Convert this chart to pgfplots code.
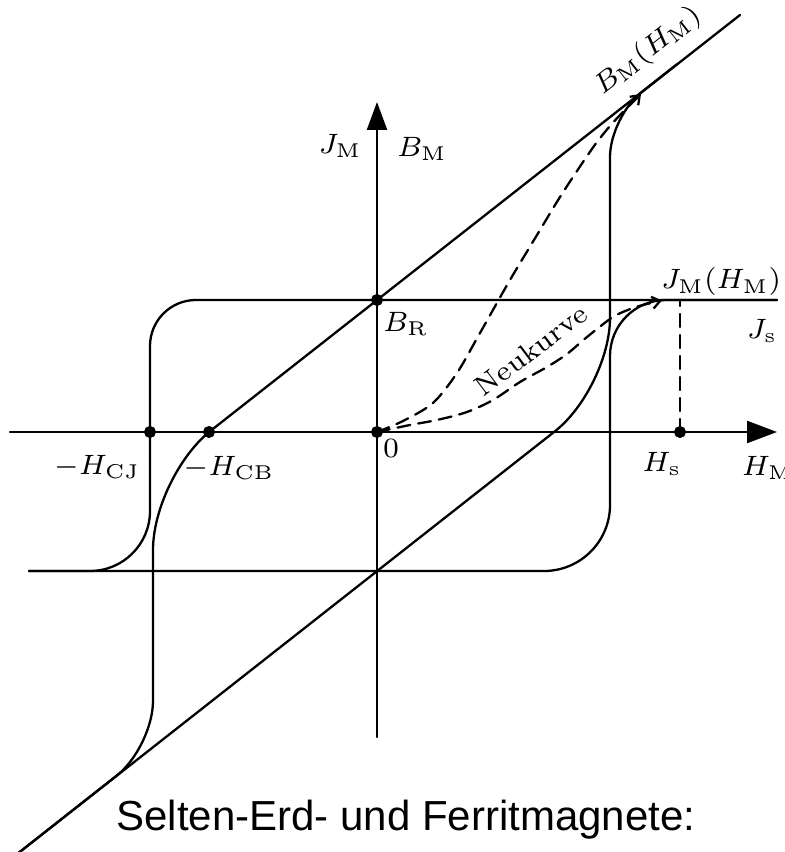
\documentclass[border=0pt]{standalone}
\usepackage{fontspec}
\usepackage{pgfplots}
\pgfplotsset{compat=1.18}
\usetikzlibrary{arrows.meta}
\newfontfamily\captionfont{Liberation Sans}

\tikzset{
  curve/.style={black, line width=1.15pt, line cap=round, line join=round},
  neu/.style={curve, smooth, dash pattern=on 6.5pt off 4pt,
    -{Straight Barb[length=4pt,width=6pt]}},
  lbl/.style={font=\fontsize{7}{8}\selectfont, scale=2.0, inner sep=0pt},
}

\begin{document}
\begin{tikzpicture}
\useasboundingbox (0,0) rectangle (392.5pt,426pt);
\clip (0,0) rectangle (392.5pt,426pt);
\begin{axis}[
  at={(0,0)}, anchor=south west,
  scale only axis, width=392.5pt, height=426pt,
  xmin=-377, xmax=408, ymin=-420, ymax=432,
  hide axis, clip=false,
]
% coordinate axes H_M and J_M / B_M
\addplot[curve, -{Triangle[length=15pt,width=11pt]}] coordinates {(-367,0) (400,0)};
\addplot[curve, -{Triangle[length=14pt,width=10pt]}] coordinates {(0,-305) (0,330)};

% J_M(H_M): rectangular loop
\addplot[curve, rounded corners=23pt] coordinates {(400,132) (-227,132) (-227,-30)};
\addplot[curve, rounded corners=30pt] coordinates {(-227,-30) (-227,-139) (-348,-139)};
\addplot[curve, rounded corners=33pt] coordinates {(-348,-139) (233,-139) (233,0)};
\addplot[curve, rounded corners=28pt] coordinates {(233,0) (233,132) (400,132)};

% B_M(H_M): sheared loop
\addplot[curve, rounded corners=37pt] coordinates {(363,417) (-224,-44) (-224,-180)};
\addplot[curve, rounded corners=23pt] coordinates {(-224,-180) (-224,-315) (-370,-430)};
\addplot[curve, rounded corners=35pt] coordinates {(-370,-430) (233,44) (233,180)};
\addplot[curve, rounded corners=20pt] coordinates {(233,180) (233,315) (300,367.8)};

% initial magnetisation curves
\addplot[neu] coordinates {(0,0) (26,11) (56,29) (80,59) (103,99) (133,152)
  (160,197) (183,235) (206,270) (220,290) (233,306) (245,319) (255,329) (264,338)};
\addplot[neu] coordinates {(0,0) (33,7) (60,12) (90,20) (116,32) (143,50)
  (170,65) (190,78) (210,95) (236,115) (256,124) (270,128) (285,131.5)};

% saturation field strength
\addplot[curve, dash pattern=on 6.5pt off 4pt] coordinates {(303,0) (303,132)};

% characteristic points
\addplot[only marks, mark=*, mark size=2.8pt, black]
  coordinates {(0,132) (0,0) (-227,0) (-168,0) (303,0)};

% labels
\node[lbl] at (-37,286) {$J_{\mathrm{M}}$};
\node[lbl] at (45,283) {$B_{\mathrm{M}}$};
\node[lbl] at (29,108) {$B_{\mathrm{R}}$};
\node[lbl] at (14,-16) {$0$};
\node[lbl] at (-280,-35) {$-H_{\mathrm{CJ}}$};
\node[lbl] at (-148,-36) {$-H_{\mathrm{CB}}$};
\node[lbl] at (285,-32) {$H_{\mathrm{s}}$};
\node[lbl, anchor=west] at (364,-36) {$H_{\mathrm{M}}$};
\node[lbl, anchor=east] at (405,150) {$J_{\mathrm{M}}(H_{\mathrm{M}})$};
\node[lbl] at (385,101) {$J_{\mathrm{s}}$};
\node[lbl, rotate=38] at (271,381) {$B_{\mathrm{M}}(H_{\mathrm{M}})$};
\node[lbl, rotate=37] at (154,82) {Neukurve};
\node[font=\captionfont\fontsize{21}{24}\selectfont, anchor=base, inner sep=0pt]
  at (29,-398) {Selten-Erd- und Ferritmagnete:};
\end{axis}
\end{tikzpicture}
\end{document}
